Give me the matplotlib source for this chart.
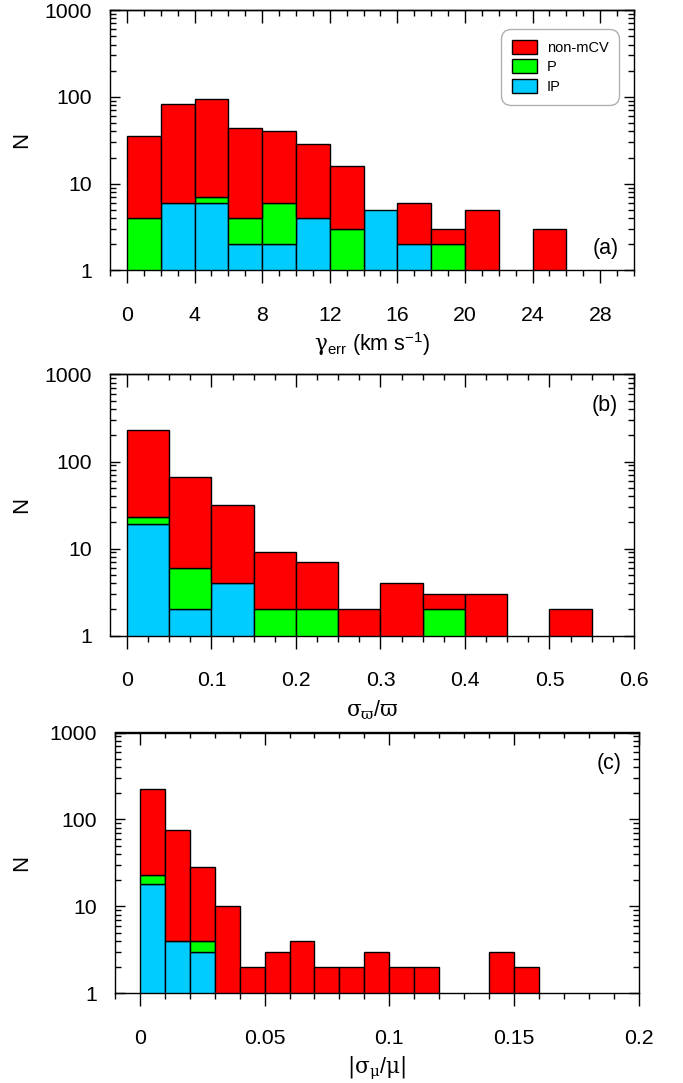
import numpy as np
import matplotlib
matplotlib.use("Agg")
import matplotlib.pyplot as plt
from matplotlib.patches import Patch
from matplotlib import ticker

plt.rcParams['font.family'] = ['Liberation Sans', 'DejaVu Sans']
plt.rcParams['mathtext.fontset'] = 'custom'
plt.rcParams['mathtext.rm'] = 'DejaVu Serif'
plt.rcParams['mathtext.sf'] = 'Liberation Sans'
plt.rcParams['mathtext.it'] = 'DejaVu Serif:italic'

# ---- data: counts per bin for each class ----
# (a) systemic velocity error, bins of 2 km/s
gamma_bins = [0, 2, 4, 6, 8, 10, 12, 14, 16, 18, 20, 22, 24, 26]
gamma_ip = [0, 6, 6, 2, 2, 4, 0, 5, 2, 0, 0, 0, 0, 0]
gamma_p = [4, 0, 1, 2, 4, 0, 3, 0, 0, 2, 0, 0, 0, 0]
gamma_non = [31, 77, 88, 40, 34, 25, 13, 0, 4, 1, 5, 0, 3, 0]

# (b) fractional parallax error, bins of 0.05
plx_bins = [0.0, 0.05, 0.10, 0.15, 0.20, 0.25, 0.30, 0.35, 0.40, 0.45, 0.50, 0.55]
plx_ip = [19, 2, 4, 0, 0, 0, 0, 0, 0, 0, 0, 0]
plx_p = [4, 4, 0, 2, 2, 0, 0, 2, 0, 0, 0, 0]
plx_non = [208, 61, 28, 7, 5, 2, 4, 1, 3, 0, 2, 0]

# (c) fractional proper-motion error, bins of 0.01
pm_bins = [0.00, 0.01, 0.02, 0.03, 0.04, 0.05, 0.06, 0.07,
           0.08, 0.09, 0.10, 0.11, 0.12, 0.13, 0.14, 0.15]
pm_ip = [18, 4, 3, 0, 0, 0, 0, 0, 0, 0, 0, 0, 0, 0, 0, 0]
pm_p = [5, 0, 1, 0, 0, 0, 0, 0, 0, 0, 0, 0, 0, 0, 0, 0]
pm_non = [201, 71, 24, 10, 2, 3, 4, 2, 2, 3, 2, 2, 0, 0, 3, 2]

class_names = ['non-mCV', 'P', 'IP']
class_colors = {'non-mCV': '#ff0000', 'P': '#00ff00', 'IP': '#00ccff'}

y_ticks = [1, 10, 100, 1000]
y_ticklabels = ['1', '10', '100', '1000']

TICK_FS = 15.3
LABEL_FS = 15.5

W, H = 683, 1083
fig = plt.figure(figsize=(W / 100, H / 100), dpi=100)


def new_axes(left, right, top, bottom):
    return fig.add_axes([left / W, 1 - bottom / H, (right - left) / W, (bottom - top) / H])


def stacked_hist(ax, edges, width, ip, p, non):
    edges = np.asarray(edges, float)
    ip = np.asarray(ip, float)
    p = np.asarray(p, float)
    non = np.asarray(non, float)
    layers = [('IP', ip, np.zeros_like(ip)),
              ('P', p, ip),
              ('non-mCV', non, ip + p)]
    for name, h, base in layers:
        m = h > 0
        ax.bar(edges[m], h[m], width=width, bottom=base[m], align='edge',
               color=class_colors[name], edgecolor='black', linewidth=1.0, zorder=2)


def style_axes(ax, xlim, xmajor, xminor, xlabels, xlabel, ylabel_x):
    ax.set_yscale('log')
    ax.set_ylim(1, 1000)
    ax.set_xlim(*xlim)
    ax.yaxis.set_major_locator(ticker.FixedLocator(y_ticks))
    ax.yaxis.set_major_formatter(ticker.FixedFormatter(y_ticklabels))
    ax.yaxis.set_minor_locator(ticker.LogLocator(base=10, subs=np.arange(2, 10)))
    ax.yaxis.set_minor_formatter(ticker.NullFormatter())
    ax.xaxis.set_major_locator(ticker.FixedLocator(xmajor))
    ax.xaxis.set_major_formatter(ticker.FixedFormatter(xlabels))
    ax.xaxis.set_minor_locator(ticker.MultipleLocator(xminor))
    ax.tick_params(axis='y', which='both', direction='in', left=True, right=True,
                   labelsize=TICK_FS, pad=13, width=1.0)
    ax.tick_params(axis='y', which='major', length=7.5)
    ax.tick_params(axis='y', which='minor', length=4.3)
    ax.tick_params(axis='x', which='both', direction='out', bottom=True, top=False,
                   labelsize=TICK_FS, pad=16, width=1.0)
    ax.tick_params(axis='x', which='major', length=9.5)
    ax.tick_params(axis='x', which='minor', length=4.3)
    top = ax.secondary_xaxis('top')
    top.xaxis.set_major_locator(ticker.FixedLocator(xmajor))
    top.xaxis.set_minor_locator(ticker.MultipleLocator(xminor))
    top.tick_params(which='both', direction='in', labeltop=False, width=1.0)
    top.tick_params(which='major', length=9.5)
    top.tick_params(which='minor', length=4.3)
    top.spines['top'].set_linewidth(1.0)
    for s in ax.spines.values():
        s.set_linewidth(1.0)

    ax.set_xlabel(xlabel, fontsize=LABEL_FS)
    ax.xaxis.label.set_verticalalignment('baseline')
    bbox = ax.get_position()
    axes_h_px = bbox.height * H
    ax.xaxis.set_label_coords(0.5, -80.5 / axes_h_px)

    ax.set_ylabel('N', fontsize=LABEL_FS + 0.5)
    ax.yaxis.label.set_verticalalignment('center')
    axes_w_px = bbox.width * W
    ax.yaxis.set_label_coords((ylabel_x - bbox.x0 * W) / axes_w_px, 0.5)


# panel (a)
ax_a = new_axes(110, 634, 10, 270.5)
stacked_hist(ax_a, gamma_bins, 2, gamma_ip, gamma_p, gamma_non)
style_axes(ax_a, (-1, 30), [0, 4, 8, 12, 16, 20, 24, 28], 1,
           ['0', '4', '8', '12', '16', '20', '24', '28'],
           r'$\mathrm{γ}_{\mathsf{err}}$ (km s$^{\mathsf{-1}}$)', 21.5)
ax_a.text(0.9715, 0.086, '(a)', transform=ax_a.transAxes, ha='right', va='center',
          fontsize=LABEL_FS)
handles = [Patch(facecolor=class_colors[n], edgecolor='black', linewidth=1.0)
           for n in class_names]
leg = ax_a.legend(handles, class_names, loc='upper right',
                  bbox_to_anchor=(0.9715, 0.927), borderaxespad=0, fontsize=10.5,
                  handlelength=1.71, handleheight=1.1, handletextpad=0.69,
                  labelspacing=0.33, borderpad=0.73, fancybox=True, framealpha=1)
leg.get_frame().set_edgecolor('#b0b0b0')
leg.get_frame().set_linewidth(1.0)
leg.get_frame().set_boxstyle('round,pad=0,rounding_size=0.7')

# panel (b)
ax_b = new_axes(110, 634, 374.5, 635.5)
stacked_hist(ax_b, plx_bins, 0.05, plx_ip, plx_p, plx_non)
style_axes(ax_b, (-0.02, 0.6), [0, 0.1, 0.2, 0.3, 0.4, 0.5, 0.6], 0.025,
           ['0', '0.1', '0.2', '0.3', '0.4', '0.5', '0.6'],
           r'$\mathrm{σ}_{\mathrm{ϖ}}\mathsf{/}\mathrm{ϖ}$', 21.5)
ax_b.text(0.969, 0.881, '(b)', transform=ax_b.transAxes, ha='right', va='center',
          fontsize=LABEL_FS)

# panel (c)
ax_c = new_axes(115, 638.5, 732.5, 993.3)
stacked_hist(ax_c, pm_bins, 0.01, pm_ip, pm_p, pm_non)
style_axes(ax_c, (-0.01, 0.2), [0, 0.05, 0.1, 0.15, 0.2], 0.01,
           ['0', '0.05', '0.1', '0.15', '0.2'],
           r'$|\mathrm{σ}_{\mathrm{μ}}\mathsf{/}\mathrm{μ}|$', 21.5)
ax_c.text(0.9686, 0.881, '(c)', transform=ax_c.transAxes, ha='right', va='center',
          fontsize=LABEL_FS)

fig.savefig('out.png', dpi=100)
